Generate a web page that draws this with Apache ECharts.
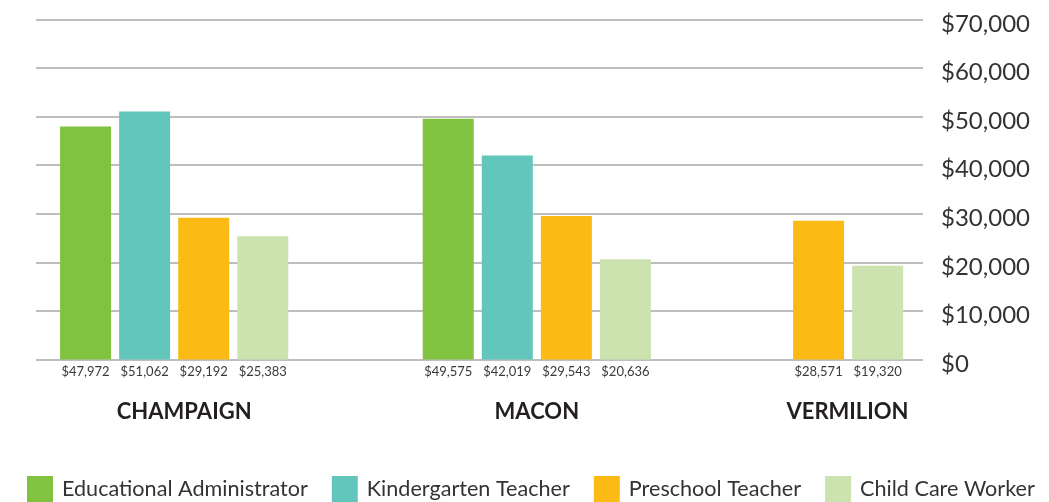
<!DOCTYPE html>
<html>
<head>
<meta charset="utf-8">
<script src="https://cdn.jsdelivr.net/npm/echarts@6/dist/echarts.min.js"></script>
<style>
  html, body { margin: 0; padding: 0; background: #fff; }
  #chart { width: 1049px; height: 502px; }
</style>
</head>
<body>
<div id="chart"></div>
<script>
// regions on the x axis
var regions = ["CHAMPAIGN", "MACON", "VERMILION"];
// occupations (legend)
var occupations = ["Educational Administrator", "Kindergarten Teacher", "Preschool Teacher", "Child Care Worker"];
// median wages per occupation, one value per region (null = no data)
var eduAdmin = [47972, 49575, null];
var kinderTeacher = [51062, 42019, null];
var preschoolTeacher = [29192, 29543, 28571];
var childCareWorker = [25383, 20636, 19320];
// y axis ticks
var yTicks = [0, 10000, 20000, 30000, 40000, 50000, 60000, 70000];

var colors = ["#82c241", "#62c6bc", "#fbbb14", "#cce3b0"];
// layout: where each region group starts on the slot axis, and where its name sits
var groupStart = [0, 6.14, 10.41];
var labelAt = [1.67, 7.64, 12.9];

var seriesValues = [eduAdmin, kinderTeacher, preschoolTeacher, childCareWorker];

function money(v) {
  return "$" + Number(v).toLocaleString("en-US");
}

var series = occupations.map(function (name, k) {
  var pts = [];
  seriesValues[k].forEach(function (v, i) {
    if (v != null) pts.push([groupStart[i] + k, v]);
  });
  return {
    name: name,
    type: "bar",
    barWidth: 51,
    barGap: "-100%",
    itemStyle: { color: colors[k] },
    label: {
      show: true,
      position: "bottom",
      distance: 6,
      fontFamily: "Lato",
      fontSize: 13,
      color: "#3a3a3a",
      formatter: function (p) { return money(p.value[1]); }
    },
    data: pts
  };
});

var myChart = echarts.init(document.getElementById("chart"));
myChart.setOption({
  animation: false,
  color: colors,
  grid: { left: 36, right: 126, top: 19.5, bottom: 142.5 },
  legend: {
    data: occupations,
    left: 27,
    top: 476,
    width: 1020,
    padding: 0,
    icon: "rect",
    itemWidth: 26,
    itemHeight: 26,
    itemGap: 24,
    textStyle: { fontFamily: "Lato", fontSize: 21.6, color: "#333", padding: [0, 0, 0, 4] }
  },
  xAxis: {
    type: "value",
    min: -0.839,
    max: 14.178,
    axisLine: { show: false },
    axisTick: { show: false },
    splitLine: { show: false },
    axisLabel: {
      customValues: labelAt,
      margin: 41,
      fontFamily: "Lato",
      fontWeight: "bold",
      fontSize: 22,
      color: "#231f20",
      formatter: function (v) {
        var i = labelAt.indexOf(v);
        return i >= 0 ? regions[i] : "";
      }
    }
  },
  yAxis: {
    type: "value",
    position: "right",
    min: yTicks[0],
    max: yTicks[yTicks.length - 1],
    interval: 10000,
    axisLine: { show: false },
    axisTick: { show: false },
    splitLine: { lineStyle: { color: "#a8a8a8", width: 1.5 } },
    axisLabel: {
      margin: 18,
      verticalAlign: "top",
      lineHeight: 9,
      fontFamily: "Lato",
      fontSize: 24,
      color: "#333",
      formatter: money
    }
  },
  series: series
});
</script>
</body>
</html>
